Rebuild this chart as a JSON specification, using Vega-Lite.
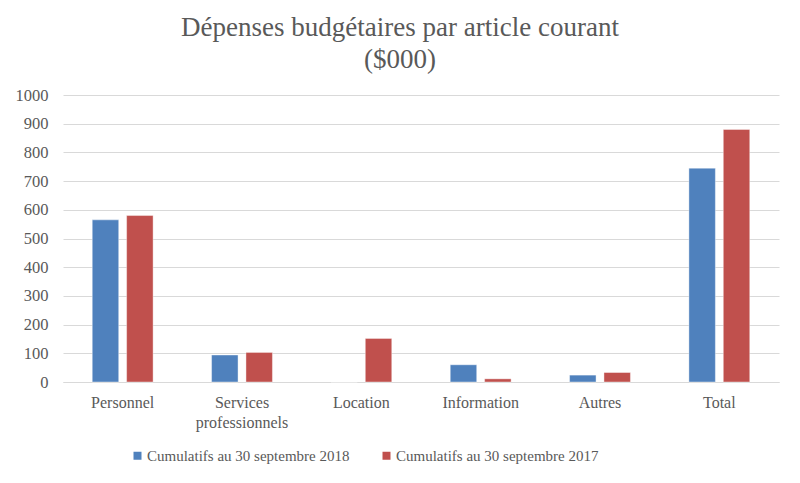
{
  "$schema": "https://vega.github.io/schema/vega-lite/v6.json",
  "width": 716,
  "height": 287,
  "autosize": {"type": "none"},
  "padding": {"left": 63, "top": 95, "right": 21, "bottom": 101},
  "background": "white",
  "title": {
    "text": ["Dépenses budgétaires par article courant", "($000)"],
    "font": "Liberation Serif",
    "fontSize": 27,
    "fontWeight": "normal",
    "color": "#595959",
    "anchor": "middle",
    "dx": -21,
    "offset": 13,
    "lineHeight": 32
  },
  "data": {
    "values": [
      {"article": "Personnel", "periode": "Cumulatifs au 30 septembre 2018", "montant": 565},
      {"article": "Personnel", "periode": "Cumulatifs au 30 septembre 2017", "montant": 580},
      {"article": "Services professionnels", "periode": "Cumulatifs au 30 septembre 2018", "montant": 94},
      {"article": "Services professionnels", "periode": "Cumulatifs au 30 septembre 2017", "montant": 103},
      {"article": "Location", "periode": "Cumulatifs au 30 septembre 2018", "montant": 0},
      {"article": "Location", "periode": "Cumulatifs au 30 septembre 2017", "montant": 152},
      {"article": "Information", "periode": "Cumulatifs au 30 septembre 2018", "montant": 60},
      {"article": "Information", "periode": "Cumulatifs au 30 septembre 2017", "montant": 11},
      {"article": "Autres", "periode": "Cumulatifs au 30 septembre 2018", "montant": 24},
      {"article": "Autres", "periode": "Cumulatifs au 30 septembre 2017", "montant": 33},
      {"article": "Total", "periode": "Cumulatifs au 30 septembre 2018", "montant": 745},
      {"article": "Total", "periode": "Cumulatifs au 30 septembre 2017", "montant": 880}
    ]
  },
  "mark": {"type": "bar", "stroke": "white", "strokeOpacity": 0.4, "strokeWidth": 1},
  "encoding": {
    "x": {
      "field": "article",
      "type": "nominal",
      "sort": ["Personnel", "Services professionnels", "Location", "Information", "Autres", "Total"],
      "scale": {"paddingInner": 0.49, "paddingOuter": 0.245},
      "axis": {
        "title": null,
        "labelAngle": 0,
        "labelExpr": "datum.label == 'Services professionnels' ? ['Services', 'professionnels'] : datum.label",
        "labelFont": "Liberation Serif",
        "labelFontSize": 16,
        "labelColor": "#595959",
        "labelPadding": 12,
        "labelLineHeight": 20,
        "ticks": false,
        "domainColor": "#d9d9d9",
        "domainWidth": 1
      }
    },
    "xOffset": {
      "field": "periode",
      "type": "nominal",
      "sort": ["Cumulatifs au 30 septembre 2018", "Cumulatifs au 30 septembre 2017"],
      "scale": {"paddingInner": 0.23, "paddingOuter": 0}
    },
    "y": {
      "field": "montant",
      "type": "quantitative",
      "scale": {"domain": [0, 1000]},
      "axis": {
        "title": null,
        "values": [0, 100, 200, 300, 400, 500, 600, 700, 800, 900, 1000],
        "format": "d",
        "labelFont": "Liberation Serif",
        "labelFontSize": 16.5,
        "labelColor": "#595959",
        "labelPadding": 15,
        "ticks": false,
        "domain": false,
        "gridColor": "#d9d9d9",
        "gridWidth": 1
      }
    },
    "color": {
      "field": "periode",
      "type": "nominal",
      "sort": ["Cumulatifs au 30 septembre 2018", "Cumulatifs au 30 septembre 2017"],
      "scale": {
        "domain": ["Cumulatifs au 30 septembre 2018", "Cumulatifs au 30 septembre 2017"],
        "range": ["#4F81BD", "#C0504D"]
      },
      "legend": {
        "title": null,
        "orient": "none",
        "legendX": 67,
        "legendY": 353,
        "direction": "horizontal",
        "columns": 2,
        "columnPadding": 29,
        "symbolType": "square",
        "symbolSize": 64,
        "symbolStrokeWidth": 0,
        "labelFont": "Liberation Serif",
        "labelFontSize": 15,
        "labelColor": "#595959",
        "labelLimit": 400,
        "labelOffset": 2
      }
    }
  },
  "config": {
    "font": "Liberation Serif",
    "view": {"stroke": null},
    "legend": {"labelFont": "Liberation Serif"}
  }
}
